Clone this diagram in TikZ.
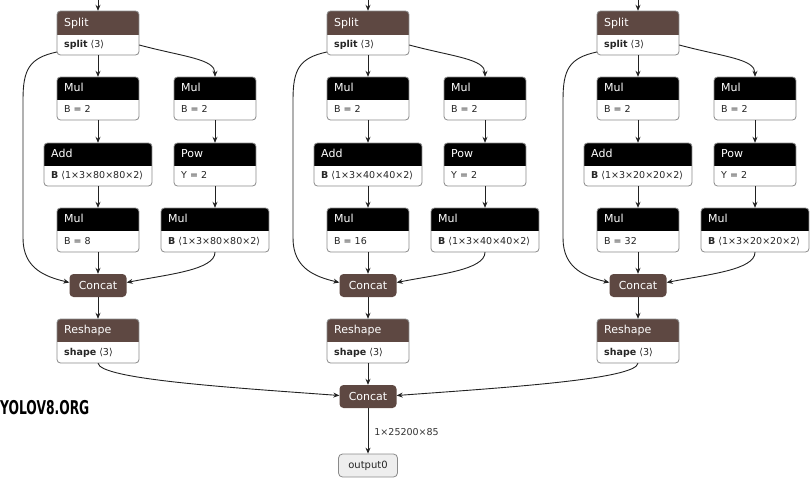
\documentclass[tikz,border=0pt]{standalone}
\usepackage{fontspec}
\usepackage{graphicx}
\setmainfont{DejaVu Sans}
\newfontfamily\logofont{DejaVu Sans Condensed}
\usetikzlibrary{arrows.meta,fit}
\definecolor{brn}{HTML}{5E4842}
\definecolor{edgec}{HTML}{222222}
\definecolor{bord}{HTML}{8A8A8A}
\definecolor{outfill}{HTML}{EEEEEE}
\tikzset{
  hd/.style={text=white, font=\fontsize{11}{13}\selectfont, inner sep=0pt, text height=8pt, text depth=2pt},
  bd/.style={text=black!85, font=\fontsize{9.5}{11}\selectfont, inner sep=0pt, text height=7pt, text depth=2pt},
  edge/.style={draw=edgec, line width=0.9pt, -{Stealth[length=6pt,width=5pt]}},
  cat/.style={fill=brn, text=white, rounded corners=4pt, minimum width=57pt, minimum height=23pt, inner sep=0pt, font=\fontsize{11}{13}\selectfont},
  outbox/.style={fill=outfill, draw=bord, line width=0.8pt, text=black!85, rounded corners=4pt, minimum width=59pt, minimum height=23pt, inner sep=0pt, font=\fontsize{10}{12}\selectfont},
  lbl/.style={text=black!80, font=\fontsize{9.5}{11}\selectfont, inner sep=0pt}
}
\newcommand\opbox[9]{%
  \begin{scope}
    \clip[rounded corners=3.5pt] (#2,#3) rectangle (#4,#6);
    \fill[white] (#2,#3) rectangle (#4,#6);
    \fill[#7] (#2,#3) rectangle (#4,#5);
  \end{scope}
  \draw[draw=bord, line width=0.8pt, rounded corners=3.5pt] (#2,#3) rectangle (#4,#6);
  \node[hd, anchor=west] at ({#2+7},{(#3+#5)/2}) {#8};
  \node[bd, anchor=west] at ({#2+7},{(#5+#6)/2}) {#9};
  \node[fit={(#2,#3)(#4,#6)}, inner sep=0pt] (#1) {};
}
\begin{document}
\begin{tikzpicture}[x=1pt,y=-1pt]
\useasboundingbox (0,0) rectangle (810,479);
\foreach \g/\dx/\ad/\mb in {1/0/80/8,2/270/40/16,3/540/20/32}{
\begin{scope}[xshift=\dx pt]
  \coordinate (top\g) at (98,0);
  \opbox{split\g}{57}{11}{139}{35}{55}{brn}{Split}{\textbf{split} ⟨3⟩}
  \opbox{mula\g}{57}{77}{139}{100}{120}{black}{Mul}{B = 2}
  \opbox{mulb\g}{174}{77}{256}{100}{120}{black}{Mul}{B = 2}
  \opbox{add\g}{44}{143}{152}{166}{186}{black}{Add}{\textbf{B} ⟨1×3×\ad×\ad×2⟩}
  \opbox{pow\g}{174}{143}{256}{166}{186}{black}{Pow}{Y = 2}
  \opbox{mulc\g}{57}{208}{139}{231}{252}{black}{Mul}{B = \mb}
  \opbox{muld\g}{161}{208}{269}{231}{252}{black}{Mul}{\textbf{B} ⟨1×3×\ad×\ad×2⟩}
  \node[cat] (cat\g) at (98,285.5) {Concat};
  \opbox{resh\g}{57}{319}{139}{342}{363}{brn}{Reshape}{\textbf{shape} ⟨3⟩}
  \coordinate (la\g) at (23,100);
  \coordinate (lb\g) at (23,238);
  \draw[edge] (top\g) -- (split\g);
  \draw[edge] (split\g) -- (mula\g);
  \draw[edge] (mula\g) -- (add\g);
  \draw[edge] (add\g) -- (mulc\g);
  \draw[edge] (mulc\g) -- (cat\g);
  \draw[edge] (mulb\g) -- (pow\g);
  \draw[edge] (pow\g) -- (muld\g);
  \draw[edge] ([yshift=-12pt]split\g.east) .. controls +(45,12) and +(0,-18) .. (mulb\g.north);
  \draw[edge] ([yshift=-19pt]split\g.west) .. controls +(-28,6) and +(0,-30) .. (la\g) -- (lb\g) .. controls +(0,30) and +(-25,-6) .. ([yshift=3pt]cat\g.west);
  \draw[edge] (muld\g.south) .. controls +(0,18) and +(40,-8) .. ([yshift=3pt]cat\g.east);
  \draw[edge] (cat\g) -- (resh\g);
\end{scope}
}
\node[cat] (catf) at (368,396.5) {Concat};
\node[outbox] (out) at (368,465.5) {output0};
\draw[edge] (resh1.south) .. controls +(2,16) and +(-110,-8) .. ([yshift=1pt]catf.west);
\draw[edge] (resh2) -- (catf);
\draw[edge] (resh3.south) .. controls +(-2,16) and +(110,-8) .. ([yshift=1pt]catf.east);
\draw[edge] (catf) -- node[lbl, anchor=west, xshift=6pt, yshift=-1pt] {1×25200×85} (out);
\node[anchor=west, inner sep=0pt] (logo) at (0,408) {\scalebox{0.72}[1]{\logofont\bfseries\fontsize{19}{19}\selectfont YOLOV8.ORG}};
\end{tikzpicture}
\end{document}
